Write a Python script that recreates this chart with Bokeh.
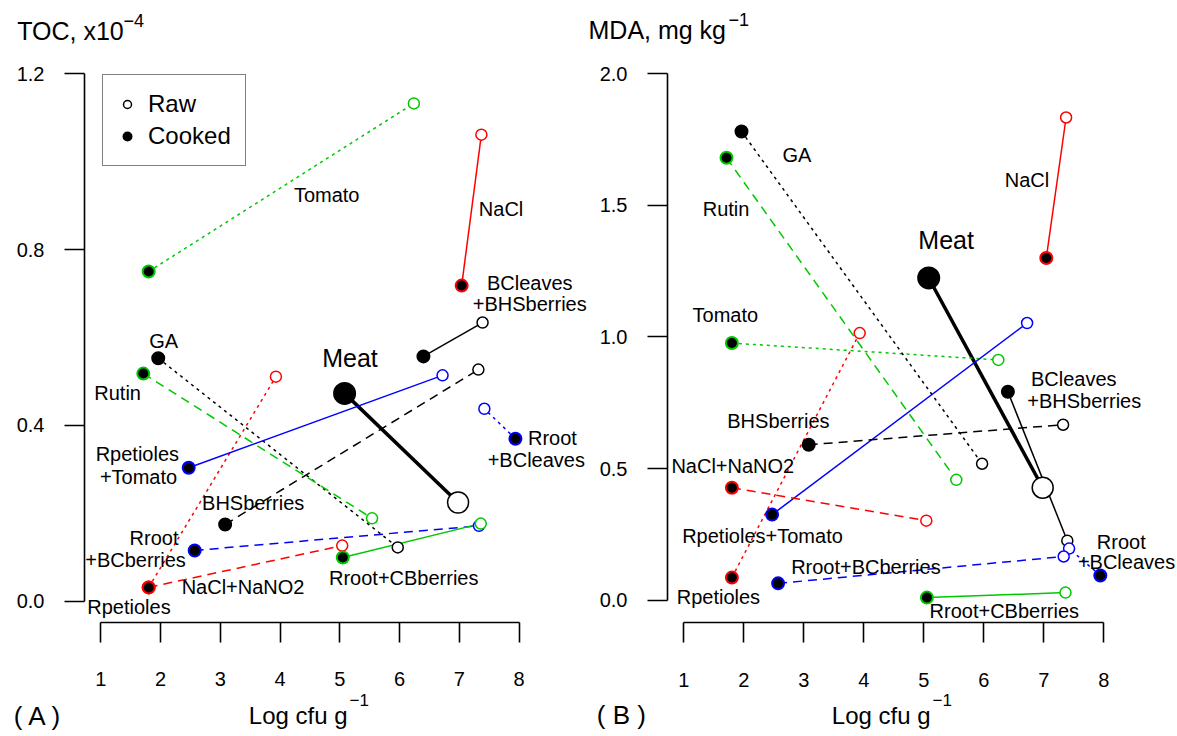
from bokeh.plotting import figure
from bokeh.models import (ColumnDataSource, Range1d, FixedTicker, Legend, LegendItem,
                          NumeralTickFormatter, LinearAxis)
from bokeh.core.properties import value
from bokeh.embed import file_html
from bokeh.resources import INLINE

# ---------------- data ----------------
treatments = ["Meat", "Tomato", "NaCl", "BCleaves+BHSberries", "GA", "Rutin",
              "Rpetioles", "Rpetioles+Tomato", "BHSberries", "Rroot+BCleaves",
              "Rroot+BCberries", "NaCl+NaNO2", "Rroot+CBberries"]
cfu_cooked = [5.08, 1.80, 7.04, 6.40, 1.96, 1.71, 1.80, 2.47, 3.08, 7.94, 2.57, 1.80, 5.05]
cfu_raw = [6.98, 6.24, 7.37, 7.39, 5.97, 5.54, 3.93, 6.72, 7.32, 7.42, 7.33, 5.04, 7.36]
toc_cooked = [0.473, 0.750, 0.718, 0.557, 0.553, 0.518, 0.032, 0.304, 0.175, 0.370, 0.116, 0.032, 0.100]
toc_raw = [0.225, 1.132, 1.061, 0.634, 0.123, 0.189, 0.511, 0.514, 0.527, 0.438, 0.172, 0.127, 0.177]
mda_cooked = [1.224, 0.977, 1.300, 0.792, 1.780, 1.680, 0.087, 0.326, 0.591, 0.095, 0.065, 0.428, 0.011]
mda_raw = [0.428, 0.913, 1.833, 0.227, 0.519, 0.458, 1.015, 1.053, 0.667, 0.197, 0.167, 0.303, 0.030]

x_ticks = [1, 2, 3, 4, 5, 6, 7, 8]
toc_ticks = [0.0, 0.4, 0.8, 1.2]
mda_ticks = [0.0, 0.5, 1.0, 1.5, 2.0]

toc_label_text = ["Tomato", "NaCl", "BCleaves", "+BHSberries", "GA", "Rutin", "Rpetioles",
                  "+Tomato", "BHSberries", "Rroot", "+BCberries", "NaCl+NaNO2", "Rpetioles",
                  "Rroot+CBberries", "Rroot", "+BCleaves"]
toc_label_x = [4.78, 7.70, 8.18, 8.18, 2.05, 1.28, 1.61, 1.63, 3.55, 1.89, 1.58, 3.38, 1.47,
               6.07, 8.56, 8.29]
toc_label_y = [0.924, 0.892, 0.723, 0.675, 0.593, 0.473, 0.336, 0.283, 0.223, 0.145, 0.095,
               0.034, -0.013, 0.054, 0.372, 0.322]

mda_label_text = ["GA", "Rutin", "NaCl", "Tomato", "BCleaves", "+BHSberries", "BHSberries",
                  "NaCl+NaNO2", "Rpetioles+Tomato", "Rroot+BCberries", "Rpetioles",
                  "Rroot+CBberries", "Rroot", "+BCleaves"]
mda_label_x = [2.885, 1.703, 6.717, 1.69, 7.498, 7.673, 2.575, 1.815, 2.31, 4.033, 1.575,
               6.34, 8.29, 8.377]
mda_label_y = [1.689, 1.486, 1.594, 1.085, 0.839, 0.759, 0.683, 0.509, 0.244, 0.126, 0.0127,
               -0.040, 0.221, 0.148]

# ---------------- styles ----------------
GREEN = "#00C800"
RED = "#FF0000"
BLUE = "#0000FF"
series_color = ["black", GREEN, RED, "black", "black", GREEN, RED, BLUE, "black", BLUE,
                BLUE, RED, GREEN]
series_dash = ["solid", "dotted", "solid", "solid", "dotted", "dashed", "dotted", "solid",
               "dashed", "dotted", "dashed", "dashed", "solid"]
DASH = {"solid": "solid", "dotted": "3 4", "dashed": "9 6"}
FONT = "Liberation Sans"

# One canvas holding both panels; panel B uses its own named ranges.
p = figure(width=1177, height=736, output_backend="svg", toolbar_location=None,
           x_range=Range1d(-0.6809, 19.0248), y_range=Range1d(-0.30682, 1.36591),
           min_border=0, x_axis_location="below", y_axis_location="left")
p.extra_x_ranges = {"xb": Range1d(-10.39, 9.2267)}
p.extra_y_ranges = {"yb": Range1d(-0.51613, 2.27704)}
p.title = None
p.outline_line_color = None
p.grid.visible = False
p.background_fill_color = "white"
p.border_fill_color = "white"


def style_axis(ax, ticks, standoff):
    ax.ticker = FixedTicker(ticks=ticks)
    ax.bounds = (ticks[0], ticks[-1])
    ax.axis_line_width = 1.6
    ax.axis_line_color = "black"
    ax.major_tick_line_width = 1.6
    ax.major_tick_in = 0
    ax.major_tick_out = 20
    ax.minor_tick_line_color = None
    ax.major_label_text_font = FONT
    ax.major_label_text_font_size = "20px"
    ax.major_label_text_color = "black"
    ax.major_label_standoff = standoff


# panel A axes
xa = p.xaxis[0]
xa.fixed_location = -0.0477
style_axis(xa, x_ticks, 30)
ya = p.yaxis[0]
ya.fixed_location = 0.7254
ya.formatter = NumeralTickFormatter(format="0.0")
style_axis(ya, toc_ticks, 20)

# panel B axes
xb = LinearAxis(x_range_name="xb", y_range_name="yb", fixed_location=-0.0835)
style_axis(xb, x_ticks, 30)
p.add_layout(xb, "below")
yb = LinearAxis(x_range_name="xb", y_range_name="yb", fixed_location=0.7267,
                formatter=NumeralTickFormatter(format="0.0"))
style_axis(yb, mda_ticks, 20)
p.add_layout(yb, "left")


def draw_panel(cooked, raw, lab_text, lab_x, lab_y, meat_xy, xr_name, yr_name):
    kw = dict(x_range_name=xr_name, y_range_name=yr_name)
    for i in range(len(treatments)):
        lw = 3.5 if treatments[i] == "Meat" else 1.5
        p.line(x=[cfu_cooked[i], cfu_raw[i]], y=[cooked[i], raw[i]],
               line_color=series_color[i], line_width=lw,
               line_dash=DASH[series_dash[i]], **kw)
    raw_r, cooked_r = [], []
    for i in range(len(treatments)):
        big = treatments[i] == "Meat"
        raw_r.append(p.scatter(x=[cfu_raw[i]], y=[raw[i]], marker="circle",
                               size=21 if big else 11, fill_color="white",
                               line_color=series_color[i], line_width=1.5, **kw))
        cooked_r.append(p.scatter(x=[cfu_cooked[i]], y=[cooked[i]], marker="circle",
                                  size=21 if big else 12, fill_color="black",
                                  line_color=series_color[i], line_width=2, **kw))
    src = ColumnDataSource(dict(x=lab_x, y=lab_y, t=lab_text))
    p.text(x="x", y="y", text="t", source=src, text_font=value(FONT),
           text_font_size="20px", text_align="center", text_baseline="middle",
           text_color="black", **kw)
    p.text(x=[meat_xy[0]], y=[meat_xy[1]], text=["Meat"], text_font=value(FONT),
           text_font_size="25px", text_align="center", text_baseline="middle",
           text_color="black", **kw)
    return raw_r, cooked_r


def add_text(txt, x, y, size, xr_name, yr_name):
    p.text(x=[x], y=[y], text=[txt], text_font=value(FONT), text_font_size=size,
           text_align="left", text_baseline="middle", text_color="black",
           x_range_name=xr_name, y_range_name=yr_name)


# ---------------- panel A ----------------
rawA, cookedA = draw_panel(toc_cooked, toc_raw, toc_label_text, toc_label_x, toc_label_y,
                           (5.17, 0.554), "default", "default")
k = treatments.index("BCleaves+BHSberries")
leg = Legend(items=[LegendItem(label="Raw", renderers=[rawA[k]]),
                    LegendItem(label="Cooked", renderers=[cookedA[k]])],
             location=(102, 570))
leg.label_text_font = FONT
leg.label_text_font_size = "24px"
leg.label_text_color = "black"
leg.border_line_color = "black"
leg.border_line_width = 1.6
leg.background_fill_color = "white"
leg.background_fill_alpha = 1.0
leg.padding = 14
leg.spacing = 2
leg.margin = 0
leg.glyph_width = 20
leg.glyph_height = 30
leg.label_height = 30
leg.label_standoff = 11
p.add_layout(leg)

for txt, x, y, size in [("TOC, x10", -0.4013, 1.2966, "25px"),
                        ("\u22124", 1.380, 1.3211, "18px"),
                        ("( A )", -0.458, -0.2591, "26px"),
                        ("Log cfu g", 3.476, -0.2591, "24px"),
                        ("\u22121", 5.162, -0.225, "17px")]:
    add_text(txt, x, y, size, "default", "default")

# ---------------- panel B ----------------
draw_panel(mda_cooked, mda_raw, mda_label_text, mda_label_x, mda_label_y,
           (5.37, 1.369), "xb", "yb")
for txt, x, y, size in [("MDA, mg kg", -0.59, 2.1662, "25px"),
                        ("\u22121", 1.743, 2.2068, "18px"),
                        ("( B )", -0.4517, -0.4364, "26px"),
                        ("Log cfu g", 3.465, -0.4364, "24px"),
                        ("\u22121", 5.143, -0.3795, "17px")]:
    add_text(txt, x, y, size, "xb", "yb")

open("out.html", "w").write(file_html(p, INLINE))
